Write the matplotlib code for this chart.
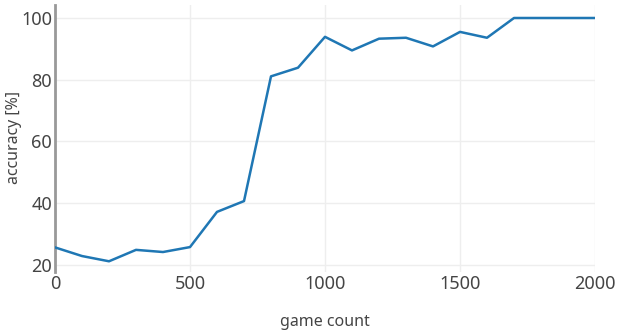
import matplotlib
matplotlib.use('Agg')
import matplotlib.pyplot as plt

plt.rcParams['font.family'] = ['Noto Sans', 'DejaVu Sans']

game_count = [0, 100, 200, 300, 400, 500, 600, 700, 800, 900, 1000,
              1100, 1200, 1300, 1400, 1500, 1600, 1700, 1800, 1900, 2000]
accuracy = [25.7, 22.9, 21.2, 24.9, 24.2, 25.8, 37.2, 40.7, 81.1, 83.9, 93.9,
            89.5, 93.3, 93.6, 90.8, 95.5, 93.6, 100, 100, 100, 100]

W, H = 620, 336
fig = plt.figure(figsize=(W / 100, H / 100), dpi=100)
ax = fig.add_axes([55 / W, 1 - 272 / H, 540 / W, 267 / H])

ax.plot(game_count, accuracy, color='#1f77b4', lw=1.8, zorder=3)

ax.set_xlim(0, 2000)
ax.set_ylim(17.73, 104.21)
ax.set_xticks([0, 500, 1000, 1500, 2000])
ax.set_yticks([20, 40, 60, 80, 100])
ax.grid(True, color='#eeeeee', lw=1)
ax.set_axisbelow(True)

for s in ['top', 'right', 'bottom']:
    ax.spines[s].set_visible(False)
ax.spines['left'].set_color('#999999')
ax.spines['left'].set_linewidth(2)

ax.tick_params(length=0, labelsize=13, colors='#444444', pad=2)

# axis titles placed like the reference
fig.text(325 / W, 1 - 322 / H, 'game count', fontsize=11.5, color='#444444',
         ha='center', va='center')
fig.text(14 / W, 1 - 138 / H, 'accuracy [%]', fontsize=11.5, color='#444444',
         ha='center', va='center', rotation=90)

fig.savefig('out.png', dpi=100)
